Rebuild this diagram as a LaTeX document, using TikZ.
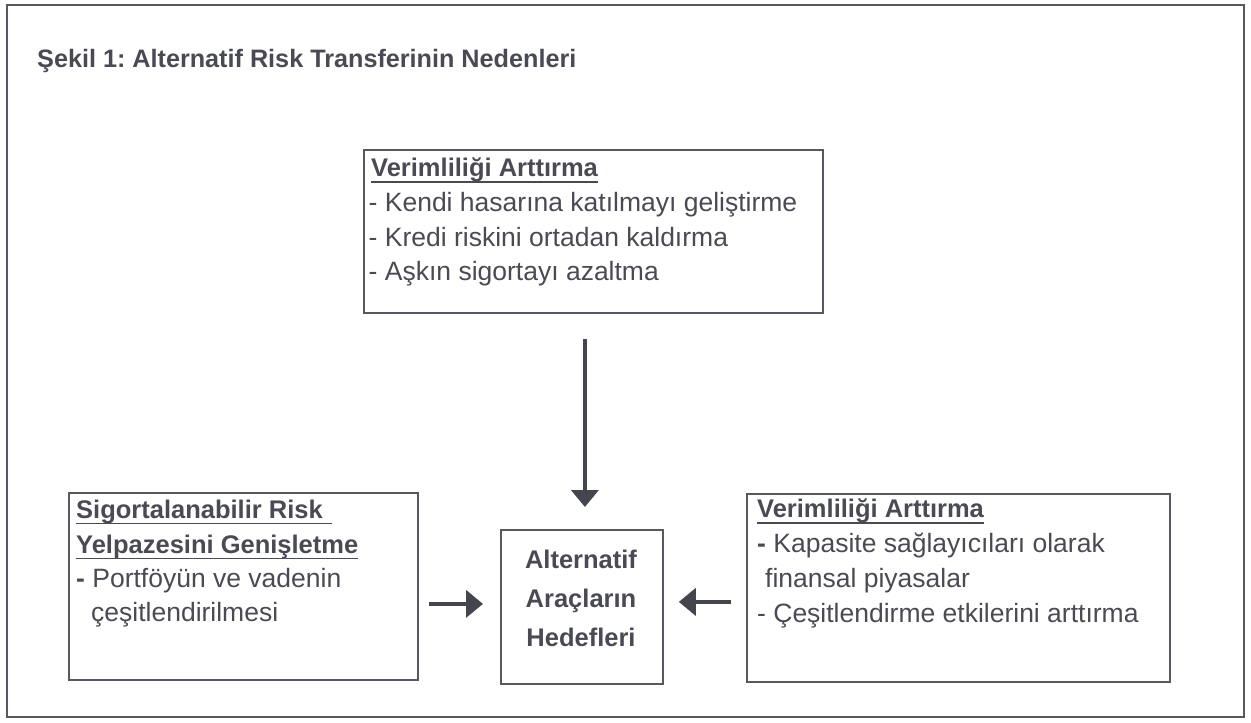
\documentclass[tikz,border=0pt]{standalone}
\usepackage{fontspec}
\setmainfont{Liberation Sans}
\usetikzlibrary{arrows.meta}
\definecolor{txt}{HTML}{4A4A54}
\definecolor{ln}{HTML}{585862}
\definecolor{ar}{HTML}{45454E}
\frenchspacing
\begin{document}
\begin{tikzpicture}[x=1pt,y=-1pt,
  box/.style={draw=ln,line width=1.8pt,inner sep=0pt,anchor=north west},
  lbl/.style={anchor=base west,inner sep=0pt,text=txt,font=\fontsize{26.5}{30}\selectfont},
  hlbl/.style={anchor=base west,inner sep=0pt,text=txt,font=\fontsize{25.5}{30}\selectfont\bfseries},
  clbl/.style={anchor=base,inner sep=0pt,text=txt,font=\fontsize{25.5}{30}\selectfont\bfseries},
  ul/.style={draw=txt,line width=1.8pt},
  arr/.style={draw=ar,line width=4pt,-{Triangle[width=27pt,length=17pt]}}]
\path[use as bounding box] (0,0) rectangle (1251,723);
\node[box,minimum width=1237pt,minimum height=712pt] (frame) at (6,4) {};
\node[hlbl,font=\fontsize{25.2}{30}\selectfont\bfseries] (title) at (37,67) {Şekil 1: Alternatif Risk Transferinin Nedenleri};
% boxes
\node[box,minimum width=459pt,minimum height=163pt] (top) at (363,149) {};
\node[box,minimum width=162pt,minimum height=154pt] (cen) at (500,529) {};
\node[box,minimum width=349pt,minimum height=187pt] (lft) at (68,492) {};
\node[box,minimum width=423pt,minimum height=188pt] (rgt) at (746,493) {};
% top box text
\node[hlbl] (t0) at (371,176) {Verimliliği Arttırma};
\node[lbl] (t1) at (368.5,211) {- Kendi hasarına katılmayı geliştirme};
\node[lbl] (t2) at (368.5,246) {- Kredi riskini ortadan kaldırma};
\node[lbl] (t3) at (368.5,280) {- Aşkın sigortayı azaltma};
% centre box text
\node[clbl] (c1) at (581,568) {Alternatif};
\node[clbl] (c2) at (581,607) {Araçların};
\node[clbl] (c3) at (581,646) {Hedefleri};
% left box text
\node[hlbl] (l0) at (76,518) {Sigortalanabilir Risk};
\node[hlbl] (l1) at (76,553) {Yelpazesini Genişletme};
\node[lbl] (l2) at (76,587) {{\bfseries -} Portföyün ve vadenin};
\node[lbl] (l3) at (91,621) {çeşitlendirilmesi};
% right box text
\node[hlbl] (r0) at (757,517) {Verimliliği Arttırma};
\node[lbl] (r1) at (757,552) {{\bfseries -} Kapasite sağlayıcıları olarak};
\node[lbl] (r2) at (765,587) {finansal piyasalar};
\node[lbl] (r3) at (757,622) {- Çeşitlendirme etkilerini arttırma};
% underlines
\draw[ul] ([yshift=-6pt]t0.base west) -- ([yshift=-6pt]t0.base east);
\draw[ul] ([yshift=-5.5pt]l0.base west) -- ([xshift=9pt,yshift=-5.5pt]l0.base east);
\draw[ul] ([yshift=-5.5pt]l1.base west) -- ([yshift=-5.5pt]l1.base east);
\draw[ul] ([yshift=-6pt]r0.base west) -- ([yshift=-6pt]r0.base east);
% arrows
\draw[arr] ([xshift=-8.5pt,yshift=-25pt]top.south) -- ([xshift=3pt,yshift=22pt]cen.north);
\draw[arr] ([xshift=10pt,yshift=-17.5pt]lft.east) -- ([xshift=-17pt,yshift=3pt]cen.west);
\draw[arr] ([xshift=-15pt,yshift=-14pt]rgt.west) -- ([xshift=15pt,yshift=5pt]cen.east);
\end{tikzpicture}
\end{document}
